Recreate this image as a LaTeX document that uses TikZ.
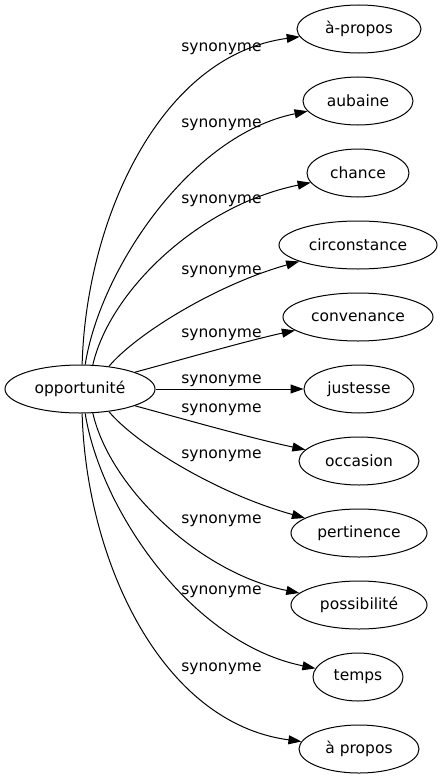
\documentclass[tikz,border=0pt]{standalone}
\usepackage{fontspec}
\setmainfont{DejaVu Sans}
\usetikzlibrary{shapes.geometric,arrows.meta}
\begin{document}
\begin{tikzpicture}[x=1bp,y=-1bp,
  every node/.style={font=\fontsize{15.5bp}{18bp}\selectfont},
  ell/.style={draw, ellipse, line width=1bp, inner sep=0pt, minimum height=48bp},
  syn/.style={anchor=base, inner sep=0pt},
  rel/.style={line width=1bp, -{Triangle[length=13bp,width=9bp]}}]
\fill[white] (0,0) rectangle (443,779);
\useasboundingbox (0,0) rectangle (443,779);
\node[ell, minimum width=150bp] (src) at (80,389) {opportunité};
\node[ell, minimum width=124bp] (t1) at (359,29) {à-propos};
\node[ell, minimum width=110bp] (t2) at (358,101) {aubaine};
\node[ell, minimum width=102bp] (t3) at (358,173) {chance};
\node[ell, minimum width=158bp] (t4) at (358,245) {circonstance};
\node[ell, minimum width=150bp] (t5) at (358,317) {convenance};
\node[ell, minimum width=110bp] (t6) at (359,389) {justesse};
\node[ell, minimum width=120bp] (t7) at (359,461) {occasion};
\node[ell, minimum width=136bp] (t8) at (359,533) {pertinence};
\node[ell, minimum width=136bp] (t9) at (359,605) {possibilité};
\node[ell, minimum width=90bp] (t10) at (358,677) {temps};
\node[ell, minimum width=120bp] (t11) at (359,749) {à propos};
\draw[rel] (src.85) .. controls (86,220) and (160,55) .. (t1);
\draw[rel] (src.78) .. controls (100,270) and (190,135) .. (t2);
\draw[rel] (src.62) .. controls (110,290) and (200,205) .. (t3);
\draw[rel] (src.38) .. controls (135,335) and (215,285) .. (t4);
\draw[rel] (src.17) .. controls (180,360) and (250,340) .. (t5);
\draw[rel] (src) -- (t6);
\draw[rel] (src.-17) .. controls (180,418) and (250,438) .. (t7);
\draw[rel] (src.-38) .. controls (135,443) and (215,493) .. (t8);
\draw[rel] (src.-62) .. controls (110,488) and (200,573) .. (t9);
\draw[rel] (src.-78) .. controls (100,508) and (190,643) .. (t10);
\draw[rel] (src.-85) .. controls (86,558) and (160,723) .. (t11);
\node[syn] (l1) at (221.5,52) {synonyme};
\node[syn] (l2) at (221.5,127) {synonyme};
\node[syn] (l3) at (221.5,203) {synonyme};
\node[syn] (l4) at (221.5,274) {synonyme};
\node[syn] (l5) at (221.5,337) {synonyme};
\node[syn] (l6) at (221.5,383) {synonyme};
\node[syn] (l7) at (221.5,412) {synonyme};
\node[syn] (l8) at (221.5,458) {synonyme};
\node[syn] (l9) at (221.5,523) {synonyme};
\node[syn] (l10) at (221.5,594) {synonyme};
\node[syn] (l11) at (221.5,671) {synonyme};
\end{tikzpicture}
\end{document}
